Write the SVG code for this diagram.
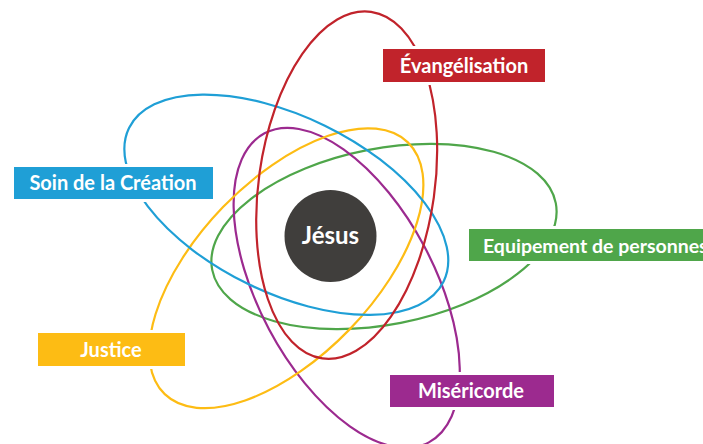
<svg xmlns="http://www.w3.org/2000/svg" width="703" height="444" viewBox="0 0 703 444">
<style>
.orb{fill:none;stroke-width:2.2}
.halo{fill:#fff}
.lbl{font-family:Lato,"Open Sans","Liberation Sans",sans-serif;font-weight:700;font-size:20px;fill:#fff;text-anchor:middle}
</style>
<rect width="703" height="444" fill="#fff"/>
<g id="connectors" transform="translate(330,236.5)">
  <ellipse class="orb" stroke="#4fa64a" rx="175" ry="88" transform="rotate(0) translate(54,0) rotate(-11)"/>
  <ellipse class="orb" stroke="#9c2a8f" rx="175" ry="88" transform="rotate(72) translate(54,0) rotate(-10)"/>
  <ellipse class="orb" stroke="#fdbc14" rx="175" ry="88" transform="rotate(144) translate(54,0) rotate(-10)"/>
  <ellipse class="orb" stroke="#1f9fd6" rx="175" ry="88" transform="rotate(216) translate(54,0) rotate(-10)"/>
  <ellipse class="orb" stroke="#c1232b" rx="175" ry="88" transform="rotate(288) translate(54,0) rotate(-10)"/>
</g>
<g id="jesus">
  <circle cx="330.5" cy="236" r="46" fill="#403e3c"/>
  <text x="330.5" y="244" font-family="Lato,'Open Sans','Liberation Sans',sans-serif" font-weight="700" font-size="24" fill="#fff" text-anchor="middle">Jésus</text>
</g>
<g id="evangelisation">
  <rect class="halo" x="380" y="46" width="168" height="39"/>
  <rect x="383" y="49" width="162" height="33" fill="#c1232b"/>
  <text class="lbl" x="464" y="73">Évangélisation</text>
</g>
<g id="soin">
  <rect class="halo" x="11" y="164" width="205" height="38"/>
  <rect x="14" y="167" width="199" height="32" fill="#1f9fd6"/>
  <text class="lbl" x="113" y="190">Soin de la Création</text>
</g>
<g id="equipement">
  <rect class="halo" x="466" y="226" width="250" height="38"/>
  <rect x="469" y="229" width="250" height="32" fill="#4fa64a"/>
  <text class="lbl" x="483" y="252.5" style="text-anchor:start;font-size:19.5px">Equipement de personnes</text>
</g>
<g id="justice">
  <rect class="halo" x="35" y="330" width="153" height="39"/>
  <rect x="38" y="333" width="147" height="33" fill="#fdbc14"/>
  <text class="lbl" x="111" y="356.5">Justice</text>
</g>
<g id="misericorde">
  <rect class="halo" x="387" y="372" width="170" height="38"/>
  <rect x="390" y="375" width="164" height="32" fill="#9c2a8f"/>
  <text class="lbl" x="471" y="398">Miséricorde</text>
</g>
</svg>
